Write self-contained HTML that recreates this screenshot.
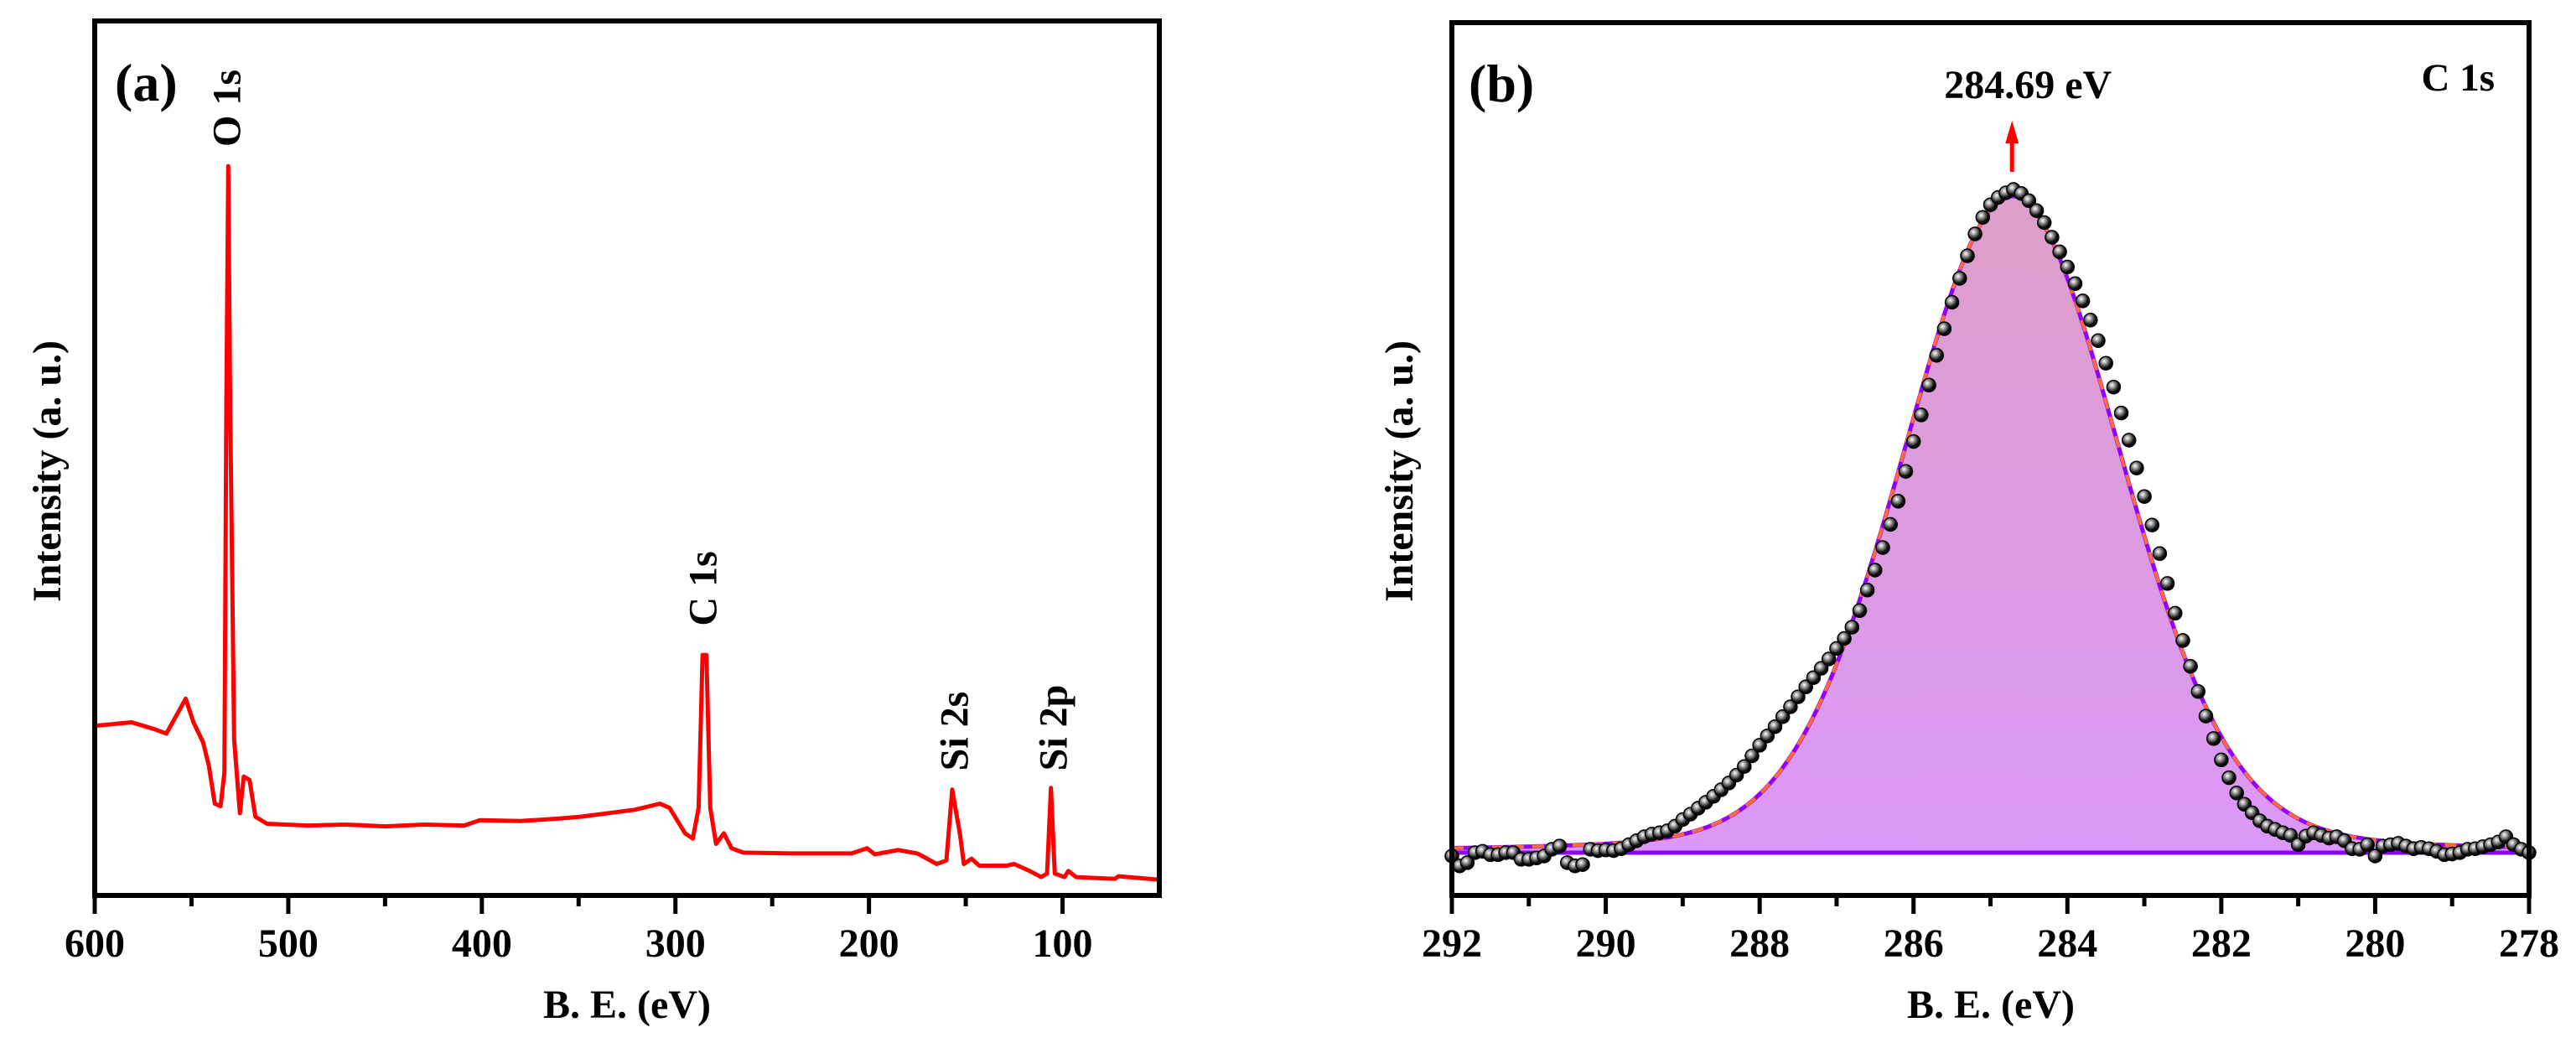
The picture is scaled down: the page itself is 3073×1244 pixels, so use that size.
<!DOCTYPE html>
<html><head><meta charset="utf-8"><style>
html,body{margin:0;padding:0;background:#fff;}
svg{display:block;}
text{font-family:"Liberation Serif","Times New Roman",serif;font-weight:bold;fill:#000;}
</style></head><body>
<svg id="chart" width="3073" height="1244" viewBox="0 0 3073 1244" xmlns="http://www.w3.org/2000/svg" font-family="Liberation Serif, Times New Roman, serif" font-weight="bold">
<defs>
<linearGradient id="fillg" x1="0" y1="0" x2="0" y2="1">
<stop offset="0" stop-color="#dd9ec9"/><stop offset="1" stop-color="#dc98f8"/>
</linearGradient>
<radialGradient id="ball" cx="0.38" cy="0.35" r="0.7">
<stop offset="0" stop-color="#ffffff"/><stop offset="0.3" stop-color="#9a9a9a"/><stop offset="0.7" stop-color="#111"/><stop offset="1" stop-color="#000"/>
</radialGradient>
</defs>
<g id="panelA"></g>
<g id="panelB"></g>
</svg>
<script>
// Panel (a) survey spectrum
const surveyBE = [600,581,569,563,558,553,549,544,541,538,535,533,532,531,530,528,525,523,520,517,511,490,470,450,430,409,401,380,360,349,321,308,303,295,291,288,286,284,282,279,275,271,265,240,209,201,197,185,175,165,160,157,153,151,147,143,129,125,117,111,108,106,104,99,97,93,73,71,50];
const surveyInt = [19.4,19.8,19.0,18.5,20.5,22.5,19.8,17.5,14.8,10.5,10.2,14,56,83.4,56,17.8,9.4,13.6,13.2,9,8.2,8.0,8.1,7.9,8.1,8.0,8.6,8.5,8.8,9.0,9.8,10.5,10.0,7.1,6.5,10,27.5,27.5,10,5.9,7.1,5.4,4.9,4.8,4.8,5.4,4.7,5.2,4.8,3.6,4.0,12.1,7.0,3.6,4.2,3.4,3.4,3.6,2.8,2.1,2.5,12.3,2.5,2.1,2.8,2.1,1.9,2.2,1.8];
const surveyTicks = [600,500,400,300,200,100];
const surveyMinor = [550,450,350,250,150];
const surveyPeaks = [["O 1s",531],["C 1s",285],["Si 2s",155],["Si 2p",104]];

// Panel (b) C 1s high resolution
const c1sStart = 292.0, c1sStep = 0.1;
const c1sInt = [-0.5,-2,-1.5,0,0.2,-0.3,-0.3,0,0,-1,-1,-0.8,-0.5,0.5,1,-1.5,-2,-1.8,0.5,0.3,0.4,0.3,0.6,1.2,1.8,2.4,2.8,3.0,3.3,4.0,5.0,5.8,6.7,7.6,8.5,9.5,10.5,11.7,13,14.6,16.2,17.6,19,20.5,22,23.5,25,26.4,27.8,29.2,30.8,32.3,34,36.5,39.6,42.6,46,49.5,53,57.5,62,66,70.5,75,79,83,86.6,90,93.3,95.8,97.7,98.8,99.5,100,99.4,98.3,96.8,95,92.8,90.6,88.3,85.8,83.2,80.3,77.2,73.8,70.2,66.3,62.2,58,53.7,49.4,45.1,40.6,36.1,32,28.1,24.3,20.6,17.2,14,11.3,9,7.3,6,4.8,4,3.5,3,2.6,1.2,2.5,3,2.6,2.2,2.4,1.8,0.6,0.5,1.2,-0.5,1.0,1.2,1.4,1.0,0.6,0.8,0.6,0.2,-0.3,-0.2,0,0.5,0.6,0.9,1.2,1.6,2.4,1.2,0.5,0];
const fitCenter = [284.72];
const fitFwhm = [3.35];
const fitAmp = [99];
const fitMix = [0.14];
const c1sTicks = [292,290,288,286,284,282,280,278];
const c1sMinor = [291,289,287,285,283,281,279];
const peakLabel = ["284.69 eV"];

const NS = "http://www.w3.org/2000/svg";
function mk(tag, attrs, parent){const e=document.createElementNS(NS,tag);for(const k in attrs)e.setAttribute(k,attrs[k]);parent.appendChild(e);return e;}

// ---------- Panel A ----------
const A = document.getElementById('panelA');
const aL=113,aR=1383,aT=25,aB=1068;
const xa = be => aL + (600-be)*(aR-aL)/550;
const ya = v => aB - v*(aB-aT)/100;
let d = surveyBE.map((b,i)=>(i?'L':'M')+xa(b).toFixed(1)+' '+ya(surveyInt[i]).toFixed(1)).join(' ');
const sl = mk('path',{d:d,fill:'none',stroke:'#ff0000','stroke-width':5,'stroke-linejoin':'round'},A);


const fa = mk('rect',{x:aL,y:aT,width:aR-aL,height:aB-aT,fill:'none',stroke:'#000','stroke-width':6},A);


surveyTicks.forEach(t=>{
  const tk=mk('line',{x1:xa(t),x2:xa(t),y1:aB,y2:aB+22,stroke:'#000','stroke-width':5},A);
  
  
  const lb=mk('text',{x:xa(t),y:1141,'font-size':48,'text-anchor':'middle'},A);lb.textContent=t;
  
  
});
surveyMinor.forEach(t=>{
  const tk=mk('line',{x1:xa(t),x2:xa(t),y1:aB,y2:aB+13,stroke:'#000','stroke-width':5},A);
  
  
});
const peakY = {"O 1s":129,"C 1s":702,"Si 2s":872,"Si 2p":868};
surveyPeaks.forEach(p=>{
  const x=xa(p[1])+14, y=peakY[p[0]];
  const t=mk('text',{x:0,y:0,'font-size':48,'text-anchor':'middle',transform:`translate(${x},${y}) rotate(-90)`},A);t.textContent=p[0];
  
  
});
let t=mk('text',{x:137,y:120,'font-size':64},A);t.textContent='(a)';


t=mk('text',{x:748,y:1214,'font-size':48,'text-anchor':'middle'},A);t.textContent='B. E. (eV)';


t=mk('text',{x:0,y:0,'font-size':48,'text-anchor':'middle',transform:'translate(72,562) rotate(-90)'},A);t.textContent='Intensity (a. u.)';



// ---------- Panel B ----------
const B = document.getElementById('panelB');
const bL=1732,bR=3017,bT=27,bB=1068;
const xb = be => bL + (292-be)*(bR-bL)/14;
const yb0=1017, yb100=226;
const yb = v => yb0 - v*(yb0-yb100)/100;
function fitVal(be){
  const dd=be-fitCenter[0], w=fitFwhm[0];
  const g=Math.exp(-4*Math.LN2*dd*dd/(w*w)), l=1/(1+4*dd*dd/(w*w));
  return fitAmp[0]*((1-fitMix[0])*g+fitMix[0]*l);
}
let pts=[];
for(let be=292;be>=277.999;be-=0.02){pts.push([xb(be),yb(fitVal(be))]);}
let fd='M'+xb(292)+' '+yb0+' '+pts.map(p=>'L'+p[0].toFixed(1)+' '+p[1].toFixed(1)).join(' ')+' L'+xb(278)+' '+yb0+' Z';
const fill=mk('path',{d:fd,fill:'url(#fillg)',stroke:'none'},B);


const base=mk('line',{x1:xb(292),x2:xb(278),y1:yb0,y2:yb0,stroke:'#8f00ff','stroke-width':5},B);


const ld='M'+pts.map(p=>p[0].toFixed(1)+' '+p[1].toFixed(1)).join(' L');
const fl=mk('path',{d:ld,fill:'none',stroke:'#9400ff','stroke-width':5},B);


const fe=mk('path',{d:ld,fill:'none',stroke:'#ff6a3a','stroke-width':4,'stroke-dasharray':'14 10'},B);


c1sInt.forEach((v,i)=>{
  const be=c1sStart-i*c1sStep;
  const c=mk('circle',{cx:xb(be).toFixed(1),cy:yb(v).toFixed(1),r:8,fill:'url(#ball)',stroke:'#000','stroke-width':1.5},B);
  
  
});
const fb=mk('rect',{x:bL,y:bT,width:bR-bL,height:bB-bT,fill:'none',stroke:'#000','stroke-width':6},B);


c1sTicks.forEach(v=>{
  const tk=mk('line',{x1:xb(v),x2:xb(v),y1:bB,y2:bB+22,stroke:'#000','stroke-width':5},B);
  
  
  const lb=mk('text',{x:xb(v),y:1141,'font-size':48,'text-anchor':'middle'},B);lb.textContent=v;
  
  
});
c1sMinor.forEach(v=>{
  const tk=mk('line',{x1:xb(v),x2:xb(v),y1:bB,y2:bB+13,stroke:'#000','stroke-width':5},B);
  
  
});
const ax=xb(fitCenter[0]);
const ar=mk('g',{},B);


mk('line',{x1:ax,x2:ax,y1:205,y2:165,stroke:'#ff0000','stroke-width':5},ar);
mk('polygon',{points:`${ax-8},171 ${ax+8},171 ${ax},144`,fill:'#ff0000'},ar);
t=mk('text',{x:ax+19,y:117,'font-size':48,'text-anchor':'middle'},B);t.textContent=peakLabel[0];


t=mk('text',{x:2976,y:108,'font-size':47,'text-anchor':'end'},B);t.textContent='C 1s';


t=mk('text',{x:1752,y:121,'font-size':64},B);t.textContent='(b)';


t=mk('text',{x:2375,y:1214,'font-size':48,'text-anchor':'middle'},B);t.textContent='B. E. (eV)';


t=mk('text',{x:0,y:0,'font-size':48,'text-anchor':'middle',transform:'translate(1685,562) rotate(-90)'},B);t.textContent='Intensity (a. u.)';


</script>
</body></html>
